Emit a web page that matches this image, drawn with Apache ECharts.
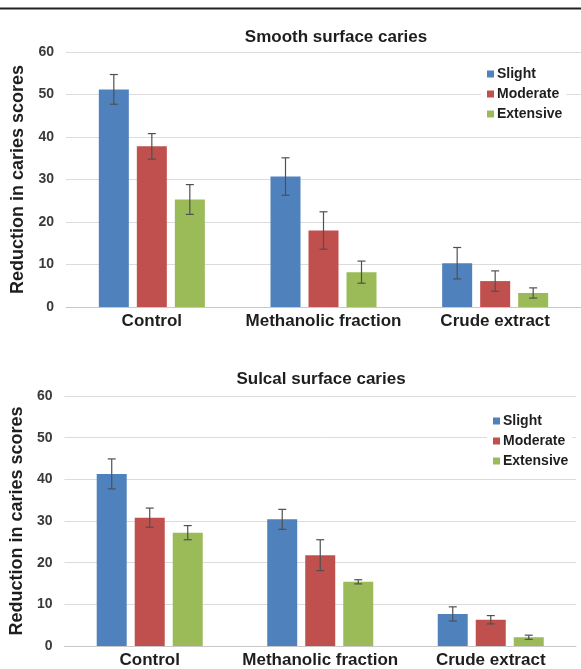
<!DOCTYPE html>
<html>
<head>
<meta charset="utf-8">
<title>Reduction in caries scores</title>
<script src="https://cdn.jsdelivr.net/npm/echarts@6/dist/echarts.min.js"></script>
<style>
  html, body { margin: 0; padding: 0; background: #fff; }
  #chart { width: 581px; height: 669px; }
</style>
</head>
<body>
<div id="chart"></div>
<script>
// Treatment groups and caries severity levels
const categories = ['Control', 'Methanolic fraction', 'Crude extract'];
const severities = ['Slight', 'Moderate', 'Extensive'];
const yTicks = [0, 10, 20, 30, 40, 50, 60];

// Smooth surface caries: mean reduction and error (±)
const smoothSlight = [51.2, 30.7, 10.3];
const smoothModerate = [37.8, 18.0, 6.1];
const smoothExtensive = [25.3, 8.2, 3.3];
const smoothSlightErr = [3.5, 4.4, 3.7];
const smoothModerateErr = [3.0, 4.4, 2.4];
const smoothExtensiveErr = [3.5, 2.6, 1.2];

// Sulcal surface caries: mean reduction and error (±)
const sulcalSlight = [41.3, 30.4, 7.7];
const sulcalModerate = [30.8, 21.8, 6.3];
const sulcalExtensive = [27.2, 15.4, 2.1];
const sulcalSlightErr = [3.6, 2.4, 1.7];
const sulcalModerateErr = [2.3, 3.7, 1.0];
const sulcalExtensiveErr = [1.7, 0.5, 0.5];

const colors = ['#4F81BD', '#C0504D', '#9BBB59'];
const BAR_W = 30;
const BAR_GAP = 8;
const FONT = 'Liberation Sans, Arial, sans-serif';

function errorSeries(name, idx, means, errs, axisIndex) {
  const offset = (BAR_W + BAR_GAP) * (idx - 1);
  return {
    name: name + ' error',
    type: 'custom',
    xAxisIndex: axisIndex,
    yAxisIndex: axisIndex,
    z: 5,
    silent: true,
    data: means.map((m, i) => [i, m - errs[i], m + errs[i]]),
    renderItem: function (params, api) {
      const top = api.coord([api.value(0), api.value(2)]);
      const bot = api.coord([api.value(0), api.value(1)]);
      const x = top[0] + offset;
      const style = { stroke: '#505050', lineWidth: 1.2 };
      return {
        type: 'group',
        children: [
          { type: 'line', shape: { x1: x, y1: top[1], x2: x, y2: bot[1] }, style: style },
          { type: 'line', shape: { x1: x - 4, y1: top[1], x2: x + 4, y2: top[1] }, style: style },
          { type: 'line', shape: { x1: x - 4, y1: bot[1], x2: x + 4, y2: bot[1] }, style: style }
        ]
      };
    }
  };
}

function barSeries(name, idx, values, axisIndex) {
  return {
    name: name,
    type: 'bar',
    xAxisIndex: axisIndex,
    yAxisIndex: axisIndex,
    barWidth: BAR_W,
    barGap: (BAR_GAP / BAR_W * 100).toFixed(1) + '%',
    itemStyle: { color: colors[idx] },
    data: values
  };
}

function xAxis(gridIndex) {
  return {
    type: 'category',
    gridIndex: gridIndex,
    data: categories,
    axisLine: { lineStyle: { color: '#c8c8c8', width: 1 } },
    axisTick: { show: false },
    axisLabel: {
      interval: 0,
      color: '#1e1e1e', fontFamily: FONT, fontWeight: 'bold', fontSize: 17, margin: 6
    }
  };
}

function yAxis(gridIndex) {
  return {
    type: 'value',
    gridIndex: gridIndex,
    min: yTicks[0],
    max: yTicks[yTicks.length - 1],
    interval: yTicks[1] - yTicks[0],
    name: 'Reduction in caries scores',
    nameLocation: 'middle',
    nameGap: 38,
    nameTextStyle: { color: '#1e1e1e', fontFamily: FONT, fontWeight: 'bold', fontSize: 18 },
    axisLine: { show: false },
    axisTick: { show: false },
    splitLine: { lineStyle: { color: '#dcdcdc', width: 1 } },
    axisLabel: {
      color: '#3a3a3a', fontFamily: FONT, fontWeight: 'bold', fontSize: 14, margin: 12
    }
  };
}

function legend(top, left) {
  return {
    orient: 'vertical',
    top: top,
    left: left,
    icon: 'rect',
    itemWidth: 7,
    itemHeight: 7,
    itemGap: 6,
    padding: [4, 4, 4, 6],
    backgroundColor: '#ffffff',
    data: severities,
    textStyle: { color: '#1e1e1e', fontFamily: FONT, fontWeight: 'bold', fontSize: 14, padding: [0, 0, 0, -2] }
  };
}

const chart = echarts.init(document.getElementById('chart'), null, { renderer: 'canvas' });

chart.setOption({
  animation: false,
  backgroundColor: '#ffffff',
  graphic: [{
    type: 'line',
    shape: { x1: 0, y1: 8.5, x2: 581, y2: 8.5 },
    style: { stroke: '#222', lineWidth: 2 }
  }],
  title: [
    {
      text: 'Smooth surface caries', left: 331, top: 24, textAlign: 'center',
      textStyle: { color: '#1e1e1e', fontFamily: FONT, fontWeight: 'bold', fontSize: 17 }
    },
    {
      text: 'Sulcal surface caries', left: 316, top: 366, textAlign: 'center',
      textStyle: { color: '#1e1e1e', fontFamily: FONT, fontWeight: 'bold', fontSize: 17 }
    }
  ],
  legend: [legend(63, 481), legend(410, 487)],
  grid: [
    { left: 66, top: 52, width: 516, height: 255 },
    { left: 61, top: 396, width: 515, height: 251 }
  ],
  xAxis: [xAxis(0), xAxis(1)],
  yAxis: [yAxis(0), yAxis(1)],
  series: [
    barSeries('Slight', 0, smoothSlight, 0),
    barSeries('Moderate', 1, smoothModerate, 0),
    barSeries('Extensive', 2, smoothExtensive, 0),
    barSeries('Slight', 0, sulcalSlight, 1),
    barSeries('Moderate', 1, sulcalModerate, 1),
    barSeries('Extensive', 2, sulcalExtensive, 1),
    errorSeries('Slight', 0, smoothSlight, smoothSlightErr, 0),
    errorSeries('Moderate', 1, smoothModerate, smoothModerateErr, 0),
    errorSeries('Extensive', 2, smoothExtensive, smoothExtensiveErr, 0),
    errorSeries('Slight', 0, sulcalSlight, sulcalSlightErr, 1),
    errorSeries('Moderate', 1, sulcalModerate, sulcalModerateErr, 1),
    errorSeries('Extensive', 2, sulcalExtensive, sulcalExtensiveErr, 1)
  ]
});
</script>
</body>
</html>
